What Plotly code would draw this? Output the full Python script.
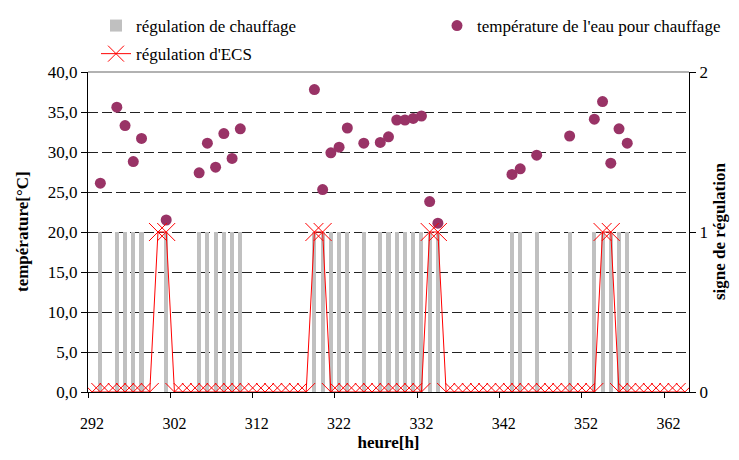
import plotly.graph_objects as go

hours = list(range(292, 365))

heating = [
    0, 1, 0, 1, 1, 1, 1, 0, 0, 1,   # 292-301
    0, 0, 0, 1, 1, 1, 1, 1, 1, 0,   # 302-311
    0, 0, 0, 0, 0, 0, 0, 1, 1, 1,   # 312-321
    1, 1, 0, 1, 0, 1, 1, 1, 1, 1,   # 322-331
    1, 1, 1, 0, 0, 0, 0, 0, 0, 0,   # 332-341
    0, 1, 1, 0, 1, 0, 0, 0, 1, 0,   # 342-351
    0, 1, 1, 1, 1, 1, 0, 0, 0, 0,   # 352-361
    0, 0, 0,                        # 362-364
]

ecs = [
    0, 0, 0, 0, 0, 0, 0, 0, 1, 1,   # 292-301
    0, 0, 0, 0, 0, 0, 0, 0, 0, 0,   # 302-311
    0, 0, 0, 0, 0, 0, 0, 1, 1, 0,   # 312-321
    0, 0, 0, 0, 0, 0, 0, 0, 0, 0,   # 322-331
    0, 1, 1, 0, 0, 0, 0, 0, 0, 0,   # 332-341
    0, 0, 0, 0, 0, 0, 0, 0, 0, 0,   # 342-351
    0, 0, 1, 1, 0, 0, 0, 0, 0, 0,   # 352-361
    0, 0, 0,                        # 362-364
]

temp_hours = [293, 295, 296, 297, 298, 301, 305, 306, 307, 308, 309, 310,
              319, 320, 321, 322, 323, 325, 327, 328, 329, 330, 331, 332, 333, 334,
              343, 344, 346, 350, 353, 354, 355, 356, 357]
temp_values = [26.1, 35.6, 33.3, 28.8, 31.7, 21.5, 27.4, 31.1, 28.1, 32.3, 29.2, 32.9,
               37.8, 25.3, 29.9, 30.6, 33.0, 31.1, 31.2, 31.9, 34.0, 34.0, 34.2, 34.5, 23.8, 21.1,
               27.2, 27.9, 29.6, 32.0, 34.1, 36.3, 28.6, 32.9, 31.1]

x_tickvals = [292, 302, 312, 322, 332, 342, 352, 362]
x_tick_marks = [291.5, 301.5, 311.5, 321.5, 331.5, 341.5, 351.5, 361.5]

FONT = "Liberation Serif, Times New Roman, serif"
W, H = 731, 444   # page body has an 8px margin inside the 739x460 window
ML, MR, MT, MB = 80, 50, 64, 60
PW = W - ML - MR

fig = go.Figure()

fig.add_trace(go.Scatter(
    x=temp_hours, y=temp_values, mode="markers", yaxis="y",
    name="température de l'eau pour chauffage", legend="legend2",
    marker=dict(color="#993366", size=11, line=dict(width=0)),
))

fig.add_trace(go.Bar(
    x=hours, y=heating, yaxis="y2", width=0.5,
    name="régulation de chauffage", legendrank=1, legendgroup="a",
    marker=dict(color="#C0C0C0", line=dict(width=0)),
))

fig.add_trace(go.Scatter(
    x=hours, y=ecs, yaxis="y2", mode="lines+markers",
    name="régulation d'ECS", legendrank=3, legendgroup="b",
    line=dict(color="#FF0000", width=1),
    marker=dict(symbol="x-thin-open", size=18, color="#FF0000",
                line=dict(color="#FF0000", width=1)),
))

legend_common = dict(
    orientation="v", yanchor="top", xanchor="left",
    yref="container", xref="container",
    font=dict(family=FONT, size=17, color="black"),
    bgcolor="rgba(0,0,0,0)", borderwidth=0,
)

title_font = dict(family=FONT, size=17, color="black")

fig.update_layout(
    width=W, height=H,
    margin=dict(l=ML, r=MR, t=MT, b=MB, autoexpand=False),
    paper_bgcolor="white", plot_bgcolor="white",
    font=dict(family=FONT, size=16, color="black"),
    separators=", ",
    showlegend=True,
    bargap=0,
    legend=dict(x=88 / W, y=1.0, traceorder="grouped", tracegroupgap=3, **legend_common),
    legend2=dict(x=429 / W, y=1.0, **legend_common),
    xaxis=dict(
        range=[291.5, 364.5], automargin=False,
        tickmode="array", tickvals=x_tickvals,
        ticks="outside", ticklen=0, ticklabelstandoff=17,
        showgrid=False, zeroline=False,
        showline=True, linecolor="black", linewidth=1,
        tickfont=dict(size=16),
        minor=dict(tickmode="array", tickvals=x_tick_marks, ticks="outside",
                   ticklen=5, tickcolor="black", showgrid=False),
        title=dict(text="<b>heure[h]</b>", font=title_font, standoff=10),
    ),
    yaxis=dict(
        range=[0, 40], tickmode="linear", tick0=0, dtick=5, tickformat=".1f",
        automargin=False,
        ticks="outside", ticklen=6, tickcolor="black",
        showline=True, linecolor="black", linewidth=1,
        showgrid=True, gridcolor="#222222", gridwidth=1, griddash="10px,4px",
        zeroline=False,
        tickfont=dict(size=17),
    ),
    yaxis2=dict(
        range=[0, 2], tickmode="linear", tick0=0, dtick=1,
        overlaying="y", side="right", automargin=False,
        ticks="outside", ticklen=6, tickcolor="black",
        showline=True, linecolor="black", linewidth=1,
        showgrid=False, zeroline=False,
        tickfont=dict(size=17),
    ),
    annotations=[
        dict(text="<b>température[°C]</b>", textangle=-90, font=title_font,
             xref="paper", yref="paper", x=(14 - ML) / PW, y=0.5,
             xanchor="center", yanchor="middle", showarrow=False),
        dict(text="<b>signe de régulation</b>", textangle=-90, font=title_font,
             xref="paper", yref="paper", x=(711 - ML) / PW, y=0.5,
             xanchor="center", yanchor="middle", showarrow=False),
    ],
    shapes=[dict(type="line", xref="paper", yref="paper", x0=0, x1=1, y0=1, y1=1,
                 line=dict(color="#999999", width=1.5))],
)

fig.write_html("out.html")
